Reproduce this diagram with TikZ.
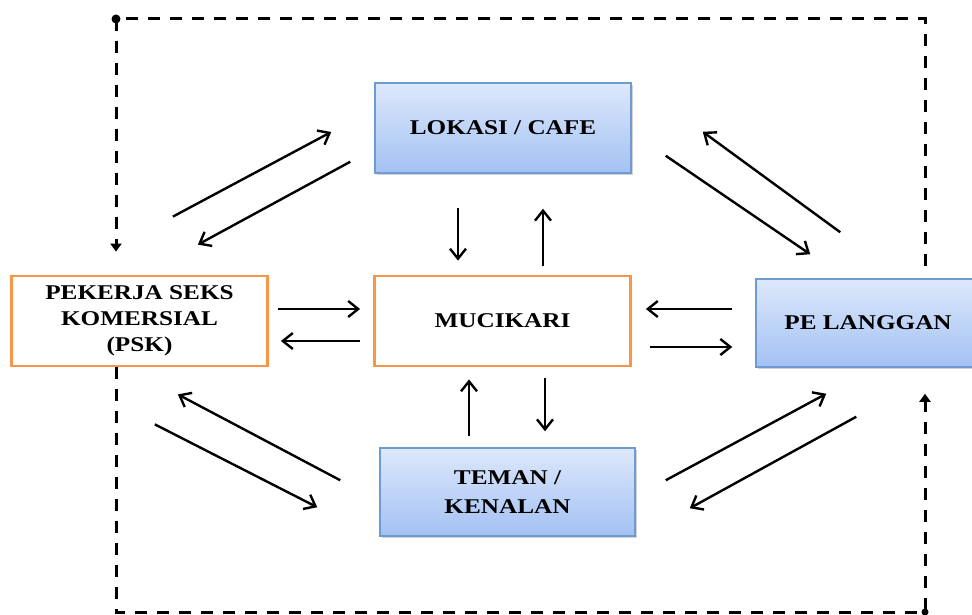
\documentclass[tikz,border=0pt]{standalone}
\usepackage{fontspec}
\setmainfont{Liberation Serif}[FakeStretch=1.2]
\usetikzlibrary{arrows.meta,shadows}
\definecolor{boxline}{HTML}{6F9BD3}
\definecolor{boxtop}{HTML}{DDE8FB}
\definecolor{boxbot}{HTML}{A3C1F3}
\definecolor{orgline}{HTML}{F79646}

\begin{document}
\begin{tikzpicture}[x=1pt,y=1pt]
\tikzset{
  actor/.style={minimum width=256pt,minimum height=90pt,inner sep=0pt,align=center,
    font=\fontsize{21}{26}\selectfont\bfseries},
  bbox/.style={actor,draw=boxline,line width=1.5pt,top color=boxtop,bottom color=boxbot,
    drop shadow={shadow xshift=1.5pt,shadow yshift=-2pt,fill=black!35,opacity=.5}},
  obox/.style={actor,draw=orgline,line width=2.8pt,fill=white},
  arr/.style={line width=2.4pt,-{Straight Barb[length=10pt,width=16pt]}},
  loopline/.style={line width=3pt,dash pattern=on 12pt off 10pt}
}
\useasboundingbox (0,0) rectangle (972,614);

\node[bbox] (lok) at (503,486) {LOKASI / CAFE};
\node[obox] (muc) at (502.5,293) {MUCIKARI};
\node[obox] (psk) at (139.5,293) {PEKERJA SEKS\\KOMERSIAL\\(PSK)};
\node[bbox,minimum width=234pt,minimum height=88pt] (pel) at (873,291) {PE LANGGAN\hspace*{10pt}};
\node[bbox,minimum width=255pt,minimum height=88pt,font=\fontsize{21}{29}\selectfont\bfseries] (tem) at (507.5,122) {TEMAN /\\KENALAN};

% lokasi
\draw[arr] ([shift={(-96,58)}]psk.north east) -- ([shift={(-43,-4)}]lok.west);
\draw[arr] ([shift={(-24,12)}]lok.south west) -- ([shift={(-71,30)}]psk.north east);
\draw[arr] ([shift={(34,18)}]lok.south east) -- ([shift={(55,24)}]pel.north west);
\draw[arr] ([shift={(85,46)}]pel.north west) -- ([shift={(71,42)}]lok.south east);
\draw[arr] ([shift={(-45,-34)}]lok.south) -- ([shift={(-44.5,14)}]muc.north);
\draw[arr] ([shift={(40.5,9)}]muc.north) -- ([shift={(40,-35)}]lok.south);

% mucikari
\draw[arr] ([shift={(9,12)}]psk.east) -- ([shift={(-13,12)}]muc.west);
\draw[arr] ([shift={(-13,-20)}]muc.west) -- ([shift={(12,-20)}]psk.east);
\draw[arr] ([shift={(-23,14)}]pel.west) -- ([shift={(14,12)}]muc.east);
\draw[arr] ([shift={(18,-26)}]muc.east) -- ([shift={(-23,-24)}]pel.west);

% teman
\draw[arr] ([shift={(-38.5,11)}]tem.north) -- ([shift={(-33.5,-12)}]muc.south);
\draw[arr] ([shift={(42.5,-11)}]muc.south) -- ([shift={(37.5,16)}]tem.north);
\draw[arr] ([shift={(-39,-33)}]tem.north west) -- ([shift={(-91,-27)}]psk.south east);
\draw[arr] ([shift={(-114,-57)}]psk.south east) -- ([shift={(-62,-60)}]tem.north west);
\draw[arr] ([shift={(30,-33)}]tem.north east) -- ([shift={(71,-26)}]pel.south west);
\draw[arr] ([shift={(101,-49)}]pel.south west) -- ([shift={(54,-61)}]tem.north east);

% outer loop
\coordinate (tl) at (116,595);
\coordinate (tr) at (925,595);
\coordinate (bl) at (116,2);
\coordinate (br) at (925,2);
\draw[loopline,-{Triangle[length=8pt,width=11pt]}] ([shift={(52,12)}]pel.north) -- (tr) -- (tl) -- ([shift={(-23.5,23)}]psk.north);
\draw[loopline,-{Triangle[length=8pt,width=11pt]}] ([xshift=-23.5pt]psk.south) -- (bl) -- (br) -- ([shift={(52,-26)}]pel.south);
\fill (tl) circle (4.5);
\fill (br) circle (3.5);
\end{tikzpicture}
\end{document}
